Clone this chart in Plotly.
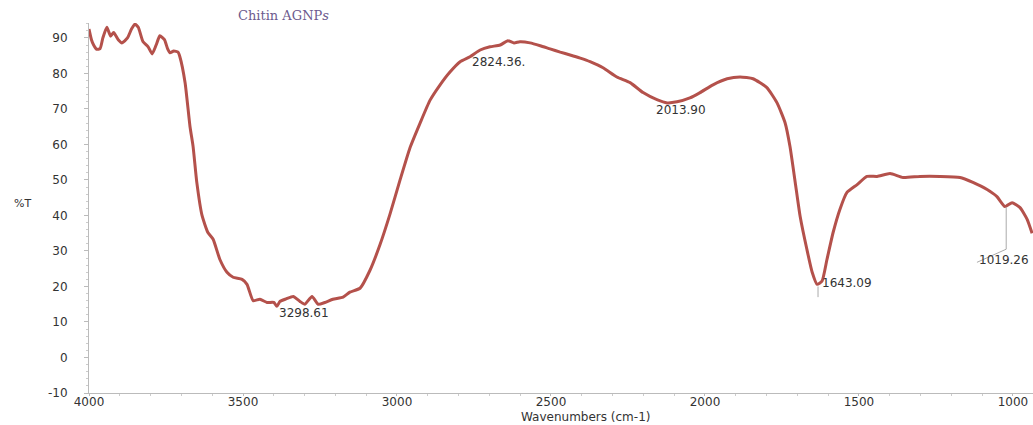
import plotly.graph_objects as go

# FTIR spectrum (wavenumber cm-1, %T)
wavenumbers = [4000, 3992, 3985, 3975, 3964, 3955, 3942, 3930, 3920, 3905, 3893, 3875, 3862, 3851,
               3840, 3825, 3808, 3795, 3782, 3770, 3755, 3745, 3737, 3725, 3711, 3705, 3688, 3672,
               3662, 3650, 3633, 3614, 3597, 3575, 3552, 3532, 3503, 3487, 3467, 3445, 3422, 3400,
               3390, 3380, 3360, 3337, 3315, 3299, 3276, 3256, 3234, 3208, 3175, 3153, 3120, 3088,
               3055, 3023, 2990, 2958, 2925, 2893, 2860, 2828, 2795, 2763, 2730, 2698, 2665, 2640,
               2620, 2601, 2568, 2535, 2503, 2470, 2438, 2405, 2373, 2331, 2286, 2243, 2201, 2156,
               2123, 2091, 2049, 2016, 1974, 1928, 1886, 1844, 1799, 1766, 1740, 1724, 1707, 1691,
               1669, 1652, 1636, 1620, 1604, 1584, 1562, 1539, 1506, 1474, 1441, 1399, 1357, 1302,
               1237, 1172, 1130, 1084, 1052, 1026, 1003, 977, 954, 938]
transmittance = [92.5, 89.5, 88.0, 86.8, 87.0, 90.0, 93.0, 90.5, 91.5, 89.5, 88.6, 90.0, 92.5, 93.9,
                 93.0, 89.0, 87.5, 85.5, 88.0, 90.6, 89.5, 87.0, 85.8, 86.3, 86.0, 84.7, 77.4, 65.0,
                 59.4, 49.3, 40.0, 35.2, 33.3, 27.6, 24.0, 22.6, 22.0, 20.6, 16.0, 16.4, 15.5, 15.5,
                 14.4, 15.8, 16.5, 17.2, 15.8, 15.0, 17.2, 15.0, 15.5, 16.4, 17.0, 18.4, 19.5, 24.5,
                 31.8, 40.3, 50.0, 59.0, 66.0, 72.4, 76.8, 80.4, 83.3, 84.7, 86.6, 87.5, 88.0, 89.2,
                 88.6, 88.9, 88.6, 87.8, 86.9, 86.0, 85.2, 84.3, 83.3, 81.6, 79.0, 77.4, 74.6, 72.6,
                 71.7, 72.0, 73.1, 74.6, 76.8, 78.5, 79.0, 78.5, 76.0, 71.7, 66.1, 59.4, 49.3, 39.7,
                 30.4, 24.0, 20.6, 21.5, 27.6, 35.2, 41.7, 46.5, 48.7, 51.0, 51.0, 51.8, 50.7, 51.0,
                 51.0, 50.7, 49.3, 47.3, 45.3, 42.5, 43.6, 42.2, 38.9, 35.0]

# Peak labels and where they are written
peak_labels = ["3298.61", "2824.36.", "2013.90", "1643.09", "1019.26"]
label_wn = [3390, 2763, 2166, 1626, 1117]
label_t = [12.5, 83.3, 69.8, 20.9, 27.4]

x_ticks = [4000, 3500, 3000, 2500, 2000, 1500, 1000]
y_ticks = [-10, 0, 10, 20, 30, 40, 50, 60, 70, 80, 90]

line_color = "#b4514b"
text_color = "#333333"
sans = "DejaVu Sans, Verdana, Arial"

W, H = 1033, 425
L, T, R = 89, 23, 0
B = H - 393
PW, PH = W - L - R, H - T - B


def px(xs):
    return (xs - L) / PW


def py(ys):
    return (H - B - ys) / PH


fig = go.Figure()
fig.add_trace(go.Scatter(
    x=wavenumbers, y=transmittance, mode="lines",
    line=dict(color=line_color, width=3, shape="spline", smoothing=0.5),
    hoverinfo="x+y", showlegend=False,
))

# peak marker lines
fig.add_trace(go.Scatter(x=[1633, 1633], y=[20.0, 17.0], mode="lines",
                         line=dict(color="#aaaaaa", width=1), showlegend=False, hoverinfo="skip"))
fig.add_trace(go.Scatter(x=[1022, 1022, 1117], y=[42.3, 30.5, 26.8], mode="lines",
                         line=dict(color="#aaaaaa", width=1), showlegend=False, hoverinfo="skip"))

for lab, xw, yt in zip(peak_labels, label_wn, label_t):
    fig.add_annotation(x=xw, y=yt, text=lab, showarrow=False, xanchor="left", yanchor="middle",
                       font=dict(family=sans, size=12, color=text_color))

fig.add_annotation(x=px(236), y=py(16), xref="paper", yref="paper",
                   text="Chitin AGNP<i>s</i>", showarrow=False, xanchor="left", yanchor="middle",
                   font=dict(family="DejaVu Serif, Liberation Serif", size=13, color="#6c5a8e"))
fig.add_annotation(x=px(585), y=py(417), xref="paper", yref="paper",
                   text="Wavenumbers (cm-1)", showarrow=False, xanchor="center", yanchor="middle",
                   font=dict(family=sans, size=12, color=text_color))
fig.add_annotation(x=px(22), y=py(203), xref="paper", yref="paper",
                   text="%T", showarrow=False, xanchor="center", yanchor="middle",
                   font=dict(family=sans, size=11, color=text_color))

fig.update_layout(
    width=W, height=H,
    margin=dict(l=L, r=R, t=T, b=B, autoexpand=False),
    paper_bgcolor="white", plot_bgcolor="white",
    font=dict(family=sans, size=12, color=text_color),
)

fig.update_xaxes(
    range=[4000, 935], tickvals=x_ticks, ticktext=[str(v) for v in x_ticks],
    showgrid=False, zeroline=False, showline=True, linecolor="#bbbbbb", linewidth=1,
    ticks="outside", ticklen=2, tickcolor="#bbbbbb", automargin=False, ticklabelstandoff=-4,
    minor=dict(dtick=100, ticks="outside", ticklen=2, tickcolor="#cccccc"),
    tickfont=dict(family=sans, size=12, color=text_color),
)
fig.update_yaxes(
    range=[-10, 94.2], tickvals=y_ticks, ticktext=[str(v) for v in y_ticks],
    showgrid=False, zeroline=False, showline=True, linecolor="#bbbbbb", linewidth=1,
    ticks="outside", ticklen=4, tickcolor="#bbbbbb", ticklabelstandoff=14, automargin=False,
    minor=dict(dtick=2, ticks="outside", ticklen=2, tickcolor="#cccccc"),
    tickfont=dict(family=sans, size=12, color=text_color),
)

fig.write_html("out.html", config={"displayModeBar": False},
               post_script="document.body.style.margin='0';document.body.style.overflow='hidden';")
